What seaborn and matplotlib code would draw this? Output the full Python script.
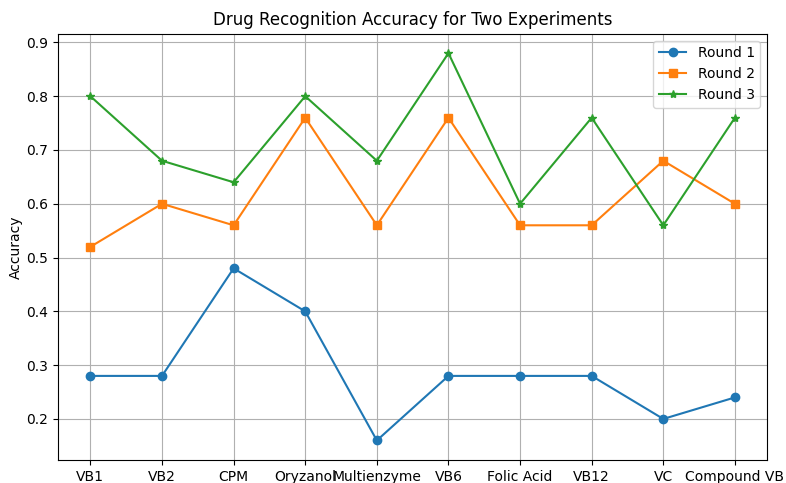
import matplotlib
matplotlib.use("Agg")
import matplotlib.pyplot as plt
import seaborn as sns
import pandas as pd

drugs = ["VB1", "VB2", "CPM", "Oryzanol", "Multienzyme", "VB6",
         "Folic Acid", "VB12", "VC", "Compound VB"]
round1 = [0.28, 0.28, 0.48, 0.40, 0.16, 0.28, 0.28, 0.28, 0.20, 0.24]
round2 = [0.52, 0.60, 0.56, 0.76, 0.56, 0.76, 0.56, 0.56, 0.68, 0.60]
round3 = [0.80, 0.68, 0.64, 0.80, 0.68, 0.88, 0.60, 0.76, 0.56, 0.76]

series = [("Round 1", round1, "o", "#1f77b4"),
          ("Round 2", round2, "s", "#ff7f0e"),
          ("Round 3", round3, "*", "#2ca02c")]

fig, ax = plt.subplots(figsize=(7.86, 4.83), dpi=100)
x = list(range(len(drugs)))
for name, vals, mk, col in series:
    df = pd.DataFrame({"x": x, "acc": vals})
    sns.lineplot(data=df, x="x", y="acc", marker=mk, color=col, label=name,
                 markersize=6, markeredgewidth=1, markeredgecolor=col, ax=ax)

ax.set_xticks(x)
ax.set_xticklabels(drugs)
ax.set_xlabel("")
ax.set_ylabel("Accuracy")
ax.yaxis.set_label_coords(-0.05, 0.5)
ax.set_title("Drug Recognition Accuracy for Two Experiments")
ax.grid(True)
ax.legend(loc="upper right")
plt.subplots_adjust(left=0.074, right=0.976, top=0.93, bottom=0.048)
plt.savefig("out.png", dpi=100)
plt.close()
